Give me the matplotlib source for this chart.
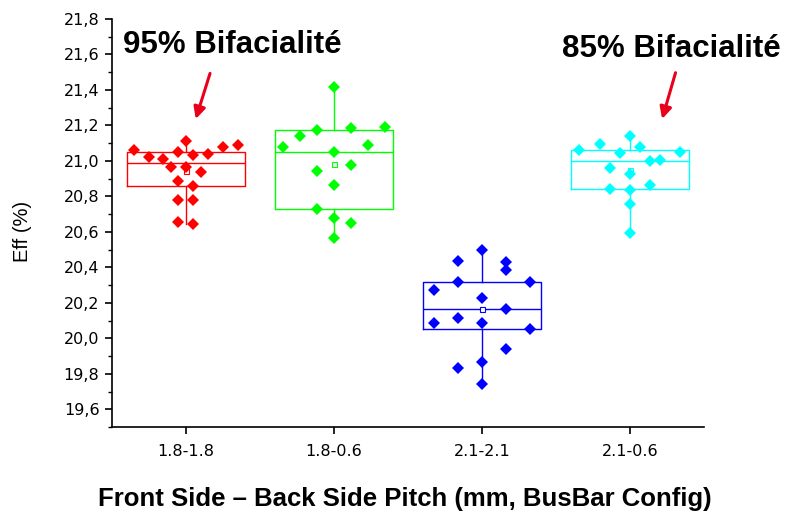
import numpy as np
import matplotlib
matplotlib.use('Agg')
import matplotlib.pyplot as plt
from matplotlib.ticker import FuncFormatter, MultipleLocator

plt.rcParams['font.family'] = ['Liberation Sans', 'DejaVu Sans']

# --- Efficiency per busbar pitch configuration (%) ---
configs = ['1.8-1.8', '1.8-0.6', '2.1-2.1', '2.1-0.6']

eff_18_18 = [21.061, 21.020, 21.010, 21.048, 21.110, 21.031, 21.038, 21.080, 21.089,
             20.965, 20.967, 20.935, 20.885, 20.860, 20.779, 20.779, 20.655, 20.644]
eff_18_06 = [21.418, 21.174, 21.185, 21.191, 21.138, 21.080, 21.091, 21.052,
             20.943, 20.977, 20.864, 20.727, 20.676, 20.648, 20.563]
eff_21_21 = [20.497, 20.435, 20.431, 20.384, 20.318, 20.318, 20.272, 20.228, 20.164,
             20.115, 20.087, 20.087, 20.055, 19.937, 19.867, 19.830, 19.745]
eff_21_06 = [21.140, 21.059, 21.093, 21.044, 21.076, 20.997, 21.006, 21.048,
             20.961, 20.926, 20.841, 20.836, 20.862, 20.755, 20.591]

# swarm slots (horizontal spread of the points, in slot units)
slots_18_18 = [-3.5, -2.5, -1.5, -0.5, 0, 0.5, 1.5, 2.5, 3.5, -1, 0, 1, -0.5, 0.5, -0.5, 0.5, -0.5, 0.5]
slots_18_06 = [0, -1, 1, 3, -2, -3, 2, 0, -1, 1, 0, -1, 0, 1, 0]
slots_21_21 = [0, -1, 1, 1, -1, 2, -2, 0, 1, -1, -2, 0, 2, 1, 0, -1, 0]
slots_21_06 = [0, -5, -3, -1, 1, 2, 3, 5, -2, 0, -2, 0, 2, 0, 0]

groups = [eff_18_18, eff_18_06, eff_21_21, eff_21_06]
slots = [slots_18_18, slots_18_06, slots_21_21, slots_21_06]
slot_width = [0.101, 0.115, 0.162, 0.068]
colors = ['#ff0000', '#00ff00', '#0000ff', '#00ffff']

fig = plt.figure(figsize=(7.88, 5.12), dpi=100)
ax = fig.add_axes([0.142, 0.166, 0.751, 0.797])

positions = np.arange(1, len(groups) + 1)

for pos, vals, sl, sw, col in zip(positions, groups, slots, slot_width, colors):
    v = np.array(vals)
    q1, med, q3 = np.percentile(v, [25, 50, 75], method='averaged_inverted_cdf')
    stats = [dict(med=med, q1=q1, q3=q3, whislo=v.min(), whishi=v.max(),
                  mean=v.mean(), fliers=[])]
    ax.bxp(stats, positions=[pos], widths=0.8, showmeans=True, showcaps=False,
           boxprops=dict(color=col, lw=1.0),
           medianprops=dict(color=col, lw=1.0),
           whiskerprops=dict(color=col, lw=1.0),
           meanprops=dict(marker='s', markersize=3.6, markerfacecolor='white',
                          markeredgecolor=col, markeredgewidth=0.8),
           zorder=2)
    ax.plot(pos + np.array(sl) * sw, v, linestyle='none', marker='D',
            markersize=6.6, color=col, markeredgewidth=0, zorder=3)

ax.set_xlim(0.5, 4.5)
ax.set_ylim(19.5, 21.8)
ax.set_xticks(positions)
ax.set_xticklabels(configs)
ax.yaxis.set_major_locator(MultipleLocator(0.2))
ax.yaxis.set_minor_locator(MultipleLocator(0.1))
ax.yaxis.set_major_formatter(FuncFormatter(lambda v, _: f'{v:.1f}'.replace('.', ',')))

ax.spines['top'].set_visible(False)
ax.spines['right'].set_visible(False)
for s in ('left', 'bottom'):
    ax.spines[s].set_linewidth(1.2)
ax.tick_params(axis='both', which='major', direction='out', length=5, width=1.2,
               labelsize=11.5, colors='black')
ax.tick_params(axis='y', which='major', pad=4)
ax.tick_params(axis='x', which='major', pad=7)
ax.tick_params(axis='y', which='minor', direction='out', length=3, width=1.0)
for lab in ax.get_xticklabels() + ax.get_yticklabels():
    lab.set_family('DejaVu Sans')

fig.text(23 / 788, 1 - 231 / 512, 'Eff (%)', rotation=90, fontsize=14.5,
         ha='center', va='center')
fig.text(0.514, 6 / 512, 'Front Side \u2013 Back Side Pitch (mm, BusBar Config)',
         fontsize=18.5, fontweight='bold', ha='center', va='baseline')

# annotations
ax.text(0.574, 21.61, '95% Bifacialit\u00e9', fontsize=22.5, fontweight='bold',
        ha='left', va='baseline', clip_on=False)
ax.text(3.539, 21.587, '85% Bifacialit\u00e9', fontsize=22.5, fontweight='bold',
        ha='left', va='baseline', clip_on=False)
arrow = dict(arrowstyle='-|>,head_length=0.7,head_width=0.35', color='#e8001c', lw=2.2)
ax.annotate('', xy=(1.061, 21.221), xytext=(1.169, 21.508), arrowprops=arrow,
            annotation_clip=False)
ax.annotate('', xy=(4.214, 21.221), xytext=(4.315, 21.512), arrowprops=arrow,
            annotation_clip=False)

fig.savefig('out.png', dpi=100)
